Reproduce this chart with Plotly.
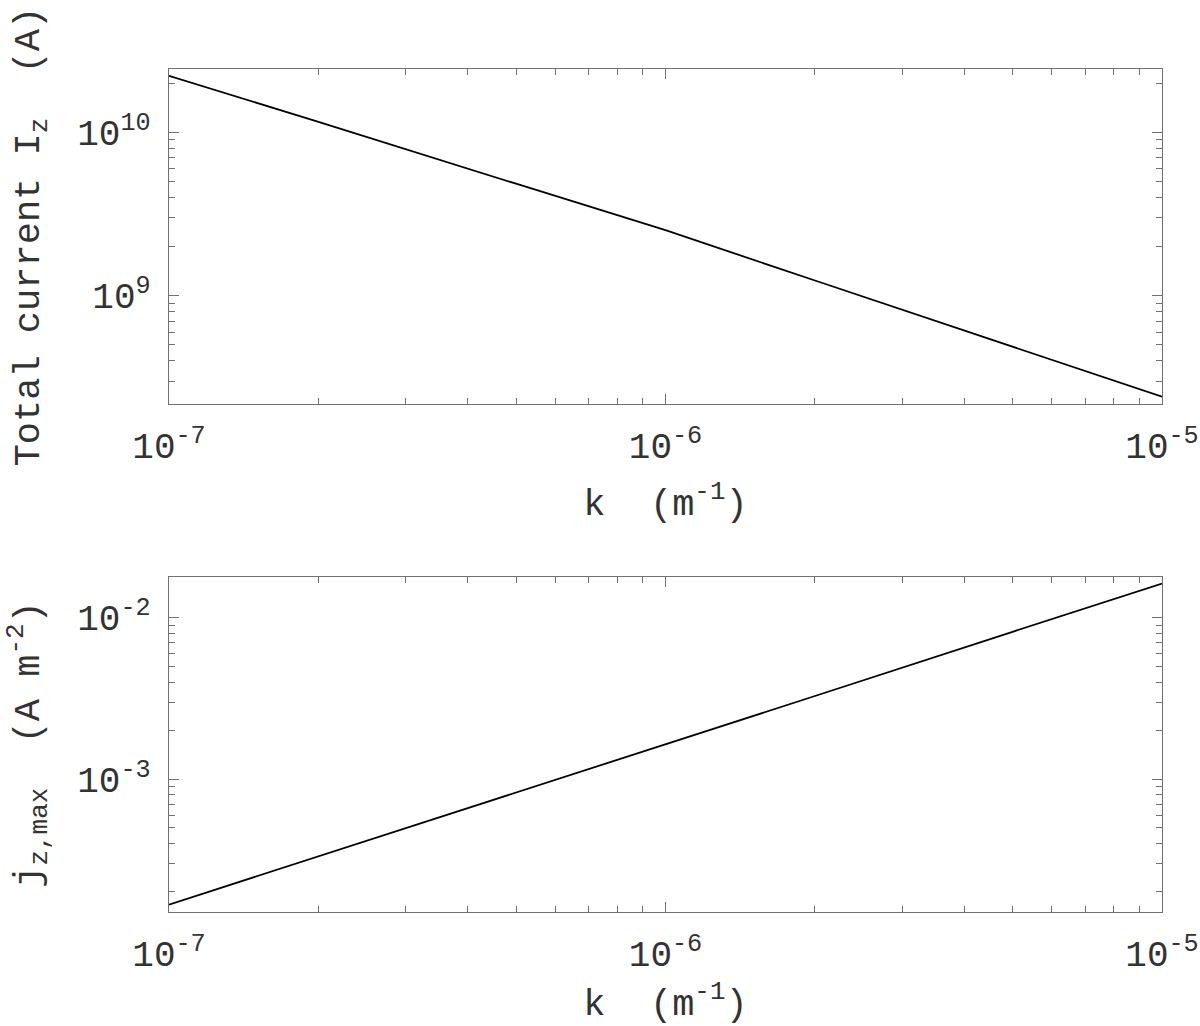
import numpy as np
import plotly.graph_objects as go
from plotly.subplots import make_subplots

# ---- data ----
k_values = [1e-7, 2e-7, 5e-7, 1e-6, 2e-6, 5e-6, 1e-5]
total_current = [2.22e10, 1.16e10, 4.85e9, 2.52e9, 1.24e9, 4.89e8, 2.41e8]
j_max = [1.67e-4, 3.32e-4, 8.22e-4, 1.64e-3, 3.28e-3, 8.2e-3, 1.63e-2]

x_tickvals = [1e-7, 1e-6, 1e-5]
x_ticktext = ["10<sup>-7</sup>", "10<sup>-6</sup>", "10<sup>-5</sup>"]
y1_tickvals = [1e9, 1e10]
y1_ticktext = ["10<sup>9</sup>", "10<sup>10</sup>"]
y2_tickvals = [1e-3, 1e-2]
y2_ticktext = ["10<sup>-3</sup>", "10<sup>-2</sup>"]

FONT = "Courier New, Nimbus Mono PS, Liberation Mono, monospace"
TXT = "#333333"
AX = "#707070"
FS = 36
FS_TITLE = 37


def minor_vals(e0, e1):
    return [m * 10.0 ** e for e in range(e0, e1) for m in range(2, 10)]


fig = make_subplots(rows=2, cols=1, vertical_spacing=0.205)

fig.add_trace(go.Scatter(x=k_values, y=total_current, mode="lines",
                         line=dict(color="black", width=1.8), showlegend=False),
              row=1, col=1)
fig.add_trace(go.Scatter(x=k_values, y=j_max, mode="lines",
                         line=dict(color="black", width=1.8), showlegend=False),
              row=2, col=1)

common_axis = dict(
    type="log", showgrid=False, zeroline=False, automargin=False,
    showline=True, linecolor=AX, linewidth=1.3, mirror="ticks",
    ticks="inside", ticklen=10, tickwidth=1, tickcolor=AX,
    tickfont=dict(family=FONT, size=FS, color=TXT),
    title_font=dict(family=FONT, size=FS_TITLE, color=TXT),
)

for r in (1, 2):
    fig.update_xaxes(
        **common_axis, range=[-7, -5],
        tickvals=x_tickvals, ticktext=x_ticktext, ticklabelstandoff=10,
        minor=dict(tickvals=minor_vals(-7, -5), ticks="inside", ticklen=6,
                   tickwidth=1, tickcolor=AX, showgrid=False),
        title=dict(text="k\u00a0\u00a0(m<sup>-1</sup>)", standoff=20),
        row=r, col=1)

fig.update_yaxes(
    **common_axis, range=[8.337, 10.388],
    tickvals=y1_tickvals, ticktext=y1_ticktext, ticklabelstandoff=10,
    minor=dict(tickvals=minor_vals(8, 11), ticks="inside", ticklen=6,
               tickwidth=1, tickcolor=AX, showgrid=False),
    title=dict(text="Total current I<sub>z</sub>\u00a0\u00a0(A)", standoff=26),
    row=1, col=1)

fig.update_yaxes(
    **common_axis, range=[-3.823, -1.746],
    tickvals=y2_tickvals, ticktext=y2_ticktext, ticklabelstandoff=10,
    minor=dict(tickvals=minor_vals(-4, -1), ticks="inside", ticklen=6,
               tickwidth=1, tickcolor=AX, showgrid=False),
    title=dict(text="j<sub>z,max</sub>\u00a0\u00a0(A m<sup>-2</sup>)", standoff=26),
    row=2, col=1)

fig.update_layout(
    width=1200, height=1026,
    margin=dict(l=169, r=38, t=69, b=114),
    paper_bgcolor="white", plot_bgcolor="white",
    font=dict(family=FONT, color=TXT),
)
fig.layout.yaxis.domain = [0.6025, 1.0]
fig.layout.yaxis2.domain = [0.0, 0.3975]

fig.write_html("out.html", config={"displayModeBar": False},
               post_script="document.body.style.margin='0';document.body.style.overflow='hidden';")
